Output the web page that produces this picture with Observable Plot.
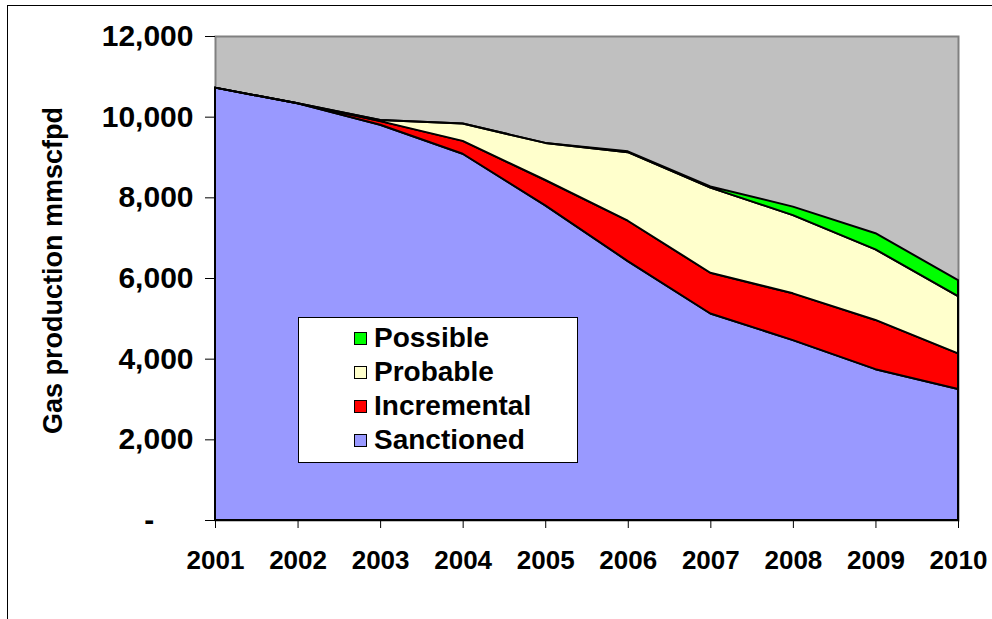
<!DOCTYPE html>
<html>
<head>
<meta charset="utf-8">
<script src="https://cdn.jsdelivr.net/npm/d3@7"></script>
<script src="https://cdn.jsdelivr.net/npm/@observablehq/plot@0.6"></script>
<style>
  html, body { margin: 0; padding: 0; background: #fff; }
  #wrap { position: relative; width: 992px; height: 619px; overflow: hidden; background: #fff; }
  #outer { position: absolute; left: 7px; top: 5px; width: 1100px; height: 800px; border: 1px solid #000; box-sizing: border-box; }
  #chart { position: absolute; left: 0; top: 0; }
  #legend { position: absolute; left: 298px; top: 317px; width: 280px; height: 146px; box-sizing: border-box;
            border: 1px solid #000; background: #fff; font-family: "Liberation Sans", Arial, sans-serif;
            font-weight: bold; font-size: 28px; color: #000; padding-top: 3px; }
  .row { height: 34px; line-height: 34px; display: flex; align-items: center; padding-left: 55px; }
  .sw { width: 13px; height: 13px; box-sizing: border-box; border: 1px solid #000; margin-right: 7px; flex: none; }
</style>
</head>
<body>
<div id="wrap">
  <div id="outer"></div>
  <div id="chart"></div>
  <div id="legend"></div>
</div>
<script>
// ---- data ----
const years = [2001, 2002, 2003, 2004, 2005, 2006, 2007, 2008, 2009, 2010];
const sanctioned  = [10720, 10330, 9800, 9080, 7800, 6420, 5120, 4460, 3740, 3250];
const incremental = [0, 0, 90, 320, 630, 1000, 1010, 1160, 1220, 880];
const probable    = [0, 0, 30, 430, 920, 1700, 2110, 1940, 1750, 1420];
const possible    = [0, 0, 0, 0, 0, 20, 30, 210, 400, 400];
const seriesNames = ["Sanctioned", "Incremental", "Probable", "Possible"];
const yTicks = [0, 2000, 4000, 6000, 8000, 10000, 12000];
const yTitle = "Gas production mmscfpd";

// ---- build table ----
const seriesValues = [sanctioned, incremental, probable, possible];
const table = [];
seriesNames.forEach((name, i) => {
  years.forEach((yr, j) => table.push({ series: name, year: yr, value: seriesValues[i][j] }));
});

const palette = ["#9999ff", "#ff0000", "#ffffcc", "#00ff00"];

const chart = Plot.plot({
  width: 992,
  height: 619,
  marginLeft: 215,
  marginRight: 34,
  marginTop: 36,
  marginBottom: 99,
  style: { fontFamily: "'Liberation Sans', Arial, sans-serif", fontWeight: "bold", background: "transparent", color: "#000", overflow: "visible" },
  x: { type: "linear", domain: [years[0], years[years.length - 1]] },
  y: { domain: [0, 12000] },
  color: { domain: seriesNames, range: palette },
  marks: [
    Plot.frame({ fill: "#c0c0c0", stroke: "#808080", strokeWidth: 2 }),
    Plot.areaY(table, Plot.stackY({
      x: "year", y: "value", z: "series", fill: "series",
      stroke: "#000", strokeWidth: 2, strokeLinejoin: "round"
    })),
    Plot.axisY({
      ticks: yTicks, tickSize: 10, tickPadding: 12, stroke: "#000",
      tickFormat: d => d === 0 ? "-\u2007\u2007\u2009" : d3.format(",")(d),
      fontSize: 30, label: null
    }),
    Plot.axisX({
      ticks: years, tickSize: 8, tickPadding: 22, stroke: "#000",
      tickFormat: d => String(d), fontSize: 26, label: null
    }),
    Plot.text([yTitle], {
      frameAnchor: "left", textAnchor: "middle", dx: -162, dy: -8, rotate: -90,
      text: d => d, fontSize: 27, fontWeight: "bold", fill: "#000"
    })
  ]
});
document.getElementById("chart").appendChild(chart);

// legend (top-to-bottom: reverse stacking order)
const legend = document.getElementById("legend");
seriesNames.slice().reverse().forEach(name => {
  const row = document.createElement("div");
  row.className = "row";
  const sw = document.createElement("span");
  sw.className = "sw";
  sw.style.background = palette[seriesNames.indexOf(name)];
  const t = document.createElement("span");
  t.textContent = name;
  row.appendChild(sw);
  row.appendChild(t);
  legend.appendChild(row);
});
</script>
</body>
</html>
